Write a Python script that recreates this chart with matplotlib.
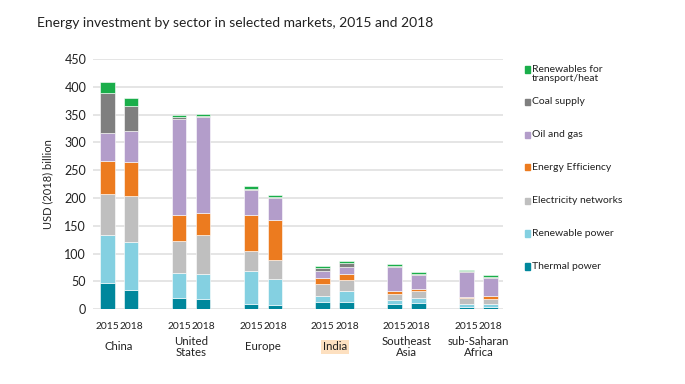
import matplotlib
matplotlib.use("Agg")
import matplotlib.pyplot as plt
import numpy as np

plt.rcParams['font.family'] = ['Lato', 'DejaVu Sans']

regions = ["China", "United\nStates", "Europe", "India", "Southeast\nAsia", "sub-Saharan\nAfrica"]
years = ["2015", "2018"]
sectors = ["Thermal power", "Renewable power", "Electricity networks", "Energy Efficiency",
           "Oil and gas", "Coal supply", "Renewables for\ntransport/heat"]
colors = ["#00879c", "#84d0e1", "#bfbfbf", "#ec7b1f", "#b39dca", "#7f7f7f", "#1aae4a"]

# values per bar: China15, China18, US15, US18, Eu15, Eu18, In15, In18, SEA15, SEA18, SSA15, SSA18
thermal     = [47, 34, 20, 18, 10, 7, 13, 13, 9, 11, 3, 3]
renewable   = [86, 87, 45, 46, 59, 48, 10, 19, 7, 9, 6, 7]
networks    = [74, 83, 57, 69, 35, 34, 23, 21, 12, 12, 11, 9]
efficiency  = [59, 60, 47, 40, 65, 71, 10, 11, 4, 4, 2, 5]
oil_gas     = [51, 56, 173, 172, 46, 40, 12, 12, 44, 26, 45, 32]
coal        = [72, 46, 3, 2, 1, 1, 6, 7, 1, 1, 1, 1]
ren_transp  = [19, 14, 4, 5, 5, 4, 4, 4, 5, 4, 3, 4]

series = [thermal, renewable, networks, efficiency, oil_gas, coal, ren_transp]

fig = plt.figure(figsize=(6.85, 3.84), dpi=100)
ax = fig.add_axes([0.136, 0.195, 0.598, 0.651])

x = []
for g in range(len(regions)):
    x += [g * 3, g * 3 + 1]
x = np.array(x, dtype=float)

bottom = np.zeros(len(x))
for vals, col, name in zip(series, colors, sectors):
    v = np.array(vals, dtype=float)
    ax.bar(x, v, width=0.62, bottom=bottom, color=col, edgecolor="white", linewidth=0.4,
           label=name, zorder=3)
    bottom += v

ax.set_ylim(0, 450)
ax.set_xlim(-0.58, 16.5)
ax.set_yticks(np.arange(0, 451, 50))
ax.yaxis.grid(True, color="#dedede", linewidth=1.1, zorder=0)
ax.set_axisbelow(True)
for s in ax.spines.values():
    s.set_visible(False)
ax.tick_params(axis='y', length=0, labelsize=9, colors="#222222", pad=5)
ax.set_xticks(x)
ax.set_xticklabels(years * len(regions), fontsize=7.4, color="#222222")
ax.tick_params(axis='x', length=0, pad=9)
ax.set_ylabel("USD (2018) billion", fontsize=8, color="#222222", labelpad=8)

# region labels
for g, name in enumerate(regions):
    cx = g * 3 + 0.5
    kw = dict(ha="center", va="center", fontsize=8.2, color="#222222",
              linespacing=1.0, clip_on=False)
    if name == "India":
        kw["bbox"] = dict(boxstyle="square,pad=0.15", facecolor="#fde0c0", edgecolor="none")
    ax.text(cx, -68, name, **kw)

fig.text(0.054, 0.94, "Energy investment by sector in selected markets, 2015 and 2018",
         fontsize=10, color="#222222", ha="left", va="center")

# legend (custom, top to bottom)
leg_y = [0.82, 0.735, 0.65, 0.565, 0.478, 0.393, 0.307]
for i, (name, col) in enumerate(zip(sectors[::-1], colors[::-1])):
    y = leg_y[i]
    fig.patches.append(plt.Rectangle((0.766, y - 0.009), 0.008, 0.016, color=col,
                                     transform=fig.transFigure, figure=fig))
    if "\n" in name:
        fig.text(0.777, y + 0.012, name, fontsize=7.5, color="#222222", ha="left", va="top",
                 linespacing=1.1)
    else:
        fig.text(0.777, y, name, fontsize=7.5, color="#222222", ha="left", va="center")

fig.savefig("out.png", dpi=100)
